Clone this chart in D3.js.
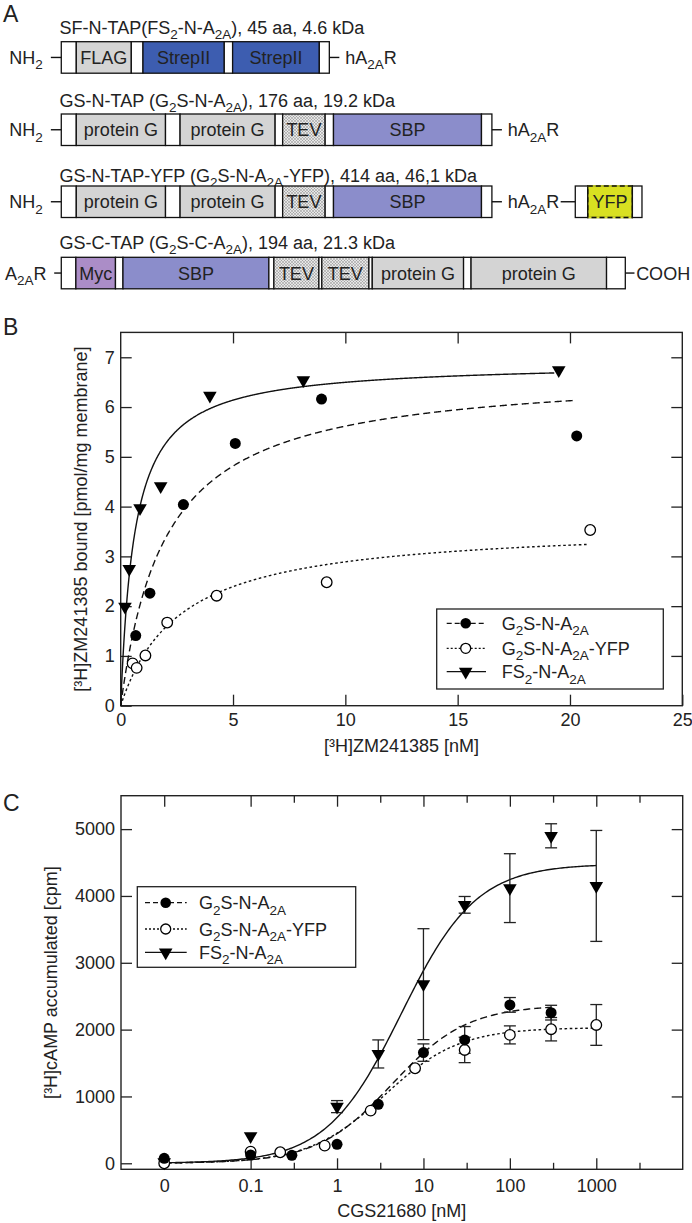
<!DOCTYPE html>
<html><head><meta charset="utf-8">
<script src="https://cdn.jsdelivr.net/npm/d3@7"></script>
<style>
body{margin:0;background:#fff}
text{font-family:"Liberation Sans",Arial,Helvetica,sans-serif;fill:#222}
</style>
</head><body>
<svg id="fig" width="692" height="1223" xmlns="http://www.w3.org/2000/svg"></svg>
<script>
// ---------------- DATA ----------------
// Panel B: saturation binding, [3H]ZM241385 (nM) vs bound (pmol/mg)
const bG2SX = [0.67, 1.30, 2.79, 5.10, 8.94, 20.3];
const bG2SY = [1.41, 2.26, 4.04, 5.27, 6.16, 5.42];
const bYFPX = [0.53, 0.71, 1.10, 2.07, 4.27, 9.17, 20.9];
const bYFPY = [0.85, 0.76, 1.01, 1.67, 2.21, 2.48, 3.53];
const bFS2X = [0.19, 0.38, 0.86, 1.78, 3.97, 8.13, 19.5];
const bFS2Y = [1.99, 2.75, 3.97, 4.41, 6.23, 6.54, 6.74];
// one-site fit parameters [Bmax, Kd, last x]
const bFitG2S = [6.74, 2.0, 20.25];
const bFitYFP = [3.65, 2.63, 20.8];
const bFitFS2 = [6.9, 0.62, 19.3];
const bXTicks = [0, 5, 10, 15, 20, 25];
const bYTicks = [0, 1, 2, 3, 4, 5, 6, 7];

// Panel C: cAMP accumulation, CGS21680 (nM; 0 shown at the "0" position)
const cG2SConc = [0, 0.1, 0.3, 1, 3, 10, 30, 100, 300];
const cG2SVal  = [75, 124, 120, 284, 883, 1656, 1846, 2370, 2254];
const cG2SErr  = [0, 0, 0, 0, 0, 130, 200, 110, 110];
const cYFPConc = [0, 0.1, 0.22, 0.72, 2.45, 8, 30, 100, 300, 1000];
const cYFPVal  = [0, 174, 165, 264, 788, 1422, 1696, 1921, 2006, 2070];
const cYFPErr  = [0, 0, 0, 0, 0, 0, 190, 135, 175, 305];
const cFS2Conc = [0, 0.1, 1, 3, 10, 30, 100, 300, 1000];
const cFS2Val  = [15, 407, 848, 1636, 2680, 3867, 4117, 4900, 4150];
const cFS2Err  = [0, 0, 90, 210, 830, 125, 515, 180, 830];
// sigmoid fit parameters [top, logEC50, last log x]
const cFitG2S = [2368, 0.637, Math.log10(300)];
const cFitYFP = [2030, 0.545, 3];
const cFitFS2 = [4480, 0.744, 3];
const cXMajor = [-2, -1, 0, 1, 2, 3];
const cXMajorLabels = ["0", "0.1", "1", "10", "100", "1000"];
const cXMinor = [-0.5, 0.5, 1.5, 2.5, 3.5];
const cYTicks = [0, 1000, 2000, 3000, 4000, 5000];

// Panel A: constructs (segment borders in drawing units)
const aTitles = [
  [["SF-N-TAP(FS",0],["2",1],["-N-A",0],["2A",1],["), 45 aa, 4.6 kDa",0]],
  [["GS-N-TAP (G",0],["2",1],["S-N-A",0],["2A",1],["), 176 aa, 19.2 kDa",0]],
  [["GS-N-TAP-YFP (G",0],["2",1],["S-N-A",0],["2A",1],["-YFP), 414 aa, 46,1 kDa",0]],
  [["GS-C-TAP (G",0],["2",1],["S-C-A",0],["2A",1],["), 194 aa, 21.3 kDa",0]]
];
const segNTAP = [[147,183,"w"],[183,397,"g","protein G"],[397,432,"w"],[432,660,"g","protein G"],[660,678,"w"],[678,780,"t","TEV"],[780,800,"w"],[800,1155,"s","SBP"],[1155,1180,"w"]];
const aSegs = [
  [[147,183,"w"],[183,315,"g","FLAG"],[315,343,"w"],[343,538,"b","StrepII"],[538,558,"w"],[558,766,"b","StrepII"],[766,790,"w"]],
  segNTAP,
  segNTAP,
  [[147,182,"w"],[182,277,"m","Myc"],[277,295,"w"],[295,645,"s","SBP"],[645,657,"w"],[657,765,"t","TEV"],[765,772,"w"],[772,885,"t","TEV"],[885,893,"w"],[893,1112,"g","protein G"],[1112,1130,"w"],[1130,1455,"g","protein G"],[1455,1500,"w"]]
];
const segYFP = [[1380,1410,"w"],[1410,1517,"y","YFP"],[1517,1540,"w"]];

// ---------------- DRAWING ----------------
const FS = 18;
const svg = d3.select("#fig");
const defs = svg.append("defs");
const pat = defs.append("pattern").attr("id","stip").attr("width",3).attr("height",3).attr("patternUnits","userSpaceOnUse");
pat.append("rect").attr("width",3).attr("height",3).attr("fill","#e6e6e6");
pat.append("circle").attr("cx",1).attr("cy",1).attr("r",0.65).attr("fill","#6e6e6e");
pat.append("circle").attr("cx",2.5).attr("cy",2.5).attr("r",0.5).attr("fill","#8c8c8c");

function rich(sel, x, y, parts, size, anchor) {
  size = size || FS;
  const t = sel.append("text").attr("x",x).attr("y",y).attr("font-size",size).attr("text-anchor",anchor||"start");
  const d = 0.3*size; let sh = false;
  parts.forEach(([s,sub]) => {
    const ts = t.append("tspan").text(s);
    if (sub) { ts.attr("font-size", size*0.75); if (!sh) { ts.attr("dy", d); sh = true; } }
    else if (sh) { ts.attr("dy", -d); sh = false; }
  });
  return t;
}

// Panel labels
svg.append("text").attr("x",3).attr("y",22).attr("font-size",23).text("A");
svg.append("text").attr("x",3).attr("y",335).attr("font-size",23).text("B");
svg.append("text").attr("x",3).attr("y",811).attr("font-size",23).text("C");

// ---- Panel A ----
const xA = d3.scaleLinear().domain([0,1660]).range([0,692]);
const fillA = {w:"#ffffff", g:"#d4d4d4", b:"#3d5db0", s:"#8b8dcb", m:"#ab8dc7", t:"url(#stip)", y:"#d9e021"};
const rowTop = [41.7, 114, 186, 257.3];
const rowH = 31.5;
const titleY = [34, 106.5, 181.5, 248.5];
const gA = svg.append("g");
function drawSegs(segs, top) {
  segs.forEach(s => {
    const x0 = xA(s[0]), x1 = xA(s[1]);
    gA.append("rect").attr("x",x0).attr("y",top).attr("width",x1-x0).attr("height",rowH)
      .attr("fill",fillA[s[2]]).attr("stroke","#111").attr("stroke-width",1.3);
    if (s[2] === "y") {
      gA.append("line").attr("x1",x0).attr("x2",x1).attr("y1",top).attr("y2",top).attr("stroke","#d9e021").attr("stroke-width",1.6);
      gA.append("line").attr("x1",x0).attr("x2",x1).attr("y1",top+rowH).attr("y2",top+rowH).attr("stroke","#d9e021").attr("stroke-width",1.6);
      gA.append("rect").attr("x",x0).attr("y",top).attr("width",x1-x0).attr("height",rowH)
        .attr("fill","none").attr("stroke","#111").attr("stroke-width",1.3).attr("stroke-dasharray","5,3");
    }
    if (s[3]) gA.append("text").attr("x",(x0+x1)/2).attr("y",top+rowH/2+6.5).attr("font-size",FS)
      .attr("text-anchor","middle").text(s[3]);
  });
}
function dash(xa, xb, y) {
  gA.append("line").attr("x1",xA(xa)).attr("x2",xA(xb)).attr("y1",y).attr("y2",y).attr("stroke","#111").attr("stroke-width",1.4);
}
aTitles.forEach((t,i) => rich(gA, xA(143), titleY[i], t));
aSegs.forEach((segs,i) => {
  const top = rowTop[i], mid = top + rowH/2, base = mid + 6.5;
  drawSegs(segs, top);
  if (i < 3) { rich(gA, xA(22), base, [["NH",0],["2",1]]); dash(122,147,mid); }
  else { rich(gA, xA(12), base, [["A",0],["2A",1],["R",0]]); dash(130,147,mid); }
  const endX = segs[segs.length-1][1];
  if (i < 3) {
    dash(endX, endX+24, mid);
    rich(gA, xA(endX+38), base, [["hA",0],["2A",1],["R",0]]);
  } else {
    dash(endX, endX+22, mid);
    gA.append("text").attr("x",xA(endX+26)).attr("y",base).attr("font-size",FS).text("COOH");
  }
  if (i === 2) { dash(1345, 1380, mid); drawSegs(segYFP, top); }
});

// ---- Panel B ----
const xB = d3.scaleLinear().domain([0,25]).range([120.7,682.3]);
const yB = d3.scaleLinear().domain([0,7.5]).range([705.7,332.4]);
const gB = svg.append("g");
function styleAxis(g) {
  g.select(".domain").remove();
  g.selectAll(".tick line").attr("stroke","#222").attr("stroke-width",1.3);
  g.selectAll(".tick text").attr("font-size",FS).attr("fill","#222").attr("font-family","Liberation Sans, Arial, sans-serif");
}
gB.append("g").attr("transform","translate(0,705.7)")
  .call(d3.axisBottom(xB).tickValues(bXTicks).tickFormat(d3.format("d")).tickSizeInner(-11).tickSizeOuter(0).tickPadding(7.5)).call(styleAxis);
gB.append("g").attr("transform","translate(0,332.4)")
  .call(d3.axisTop(xB).tickValues(bXTicks.slice(1,5)).tickFormat("").tickSizeInner(-11).tickSizeOuter(0)).call(styleAxis);
gB.append("g").attr("transform","translate(120.7,0)")
  .call(d3.axisLeft(yB).tickValues(bYTicks).tickFormat(d3.format("d")).tickSizeInner(-11).tickSizeOuter(0).tickPadding(6)).call(styleAxis);
gB.append("g").attr("transform","translate(682.3,0)")
  .call(d3.axisRight(yB).tickValues(bYTicks.slice(1)).tickFormat("").tickSizeInner(-11).tickSizeOuter(0)).call(styleAxis);
gB.append("rect").attr("x",120.7).attr("y",332.4).attr("width",682.3-120.7).attr("height",705.7-332.4)
  .attr("fill","none").attr("stroke","#222").attr("stroke-width",1.4);

const lineB = d3.line().x(d => xB(d[0])).y(d => yB(d[1]));
function bCurve(p) {
  const pts = d3.range(0, p[2], 0.02).concat([p[2]]).map(x => [x, p[0]*x/(p[1]+x)]);
  return pts;
}
const DASH = "7,4", DOT = "2.6,2.6";
gB.append("path").attr("d", lineB(bCurve(bFitG2S))).attr("fill","none").attr("stroke","#111").attr("stroke-width",1.4).attr("stroke-dasharray",DASH);
gB.append("path").attr("d", lineB(bCurve(bFitYFP))).attr("fill","none").attr("stroke","#111").attr("stroke-width",1.4).attr("stroke-dasharray",DOT);
gB.append("path").attr("d", lineB(bCurve(bFitFS2))).attr("fill","none").attr("stroke","#111").attr("stroke-width",1.4);

const triSym = d3.symbol().type(d3.symbolTriangle).size(80);
function tri(g, x, y) { g.append("path").attr("d",triSym()).attr("transform",`translate(${x},${y}) rotate(180)`).attr("fill","#000"); }
function dotF(g, x, y, r) { g.append("circle").attr("cx",x).attr("cy",y).attr("r",r||5.5).attr("fill","#000"); }
function dotO(g, x, y, r) { g.append("circle").attr("cx",x).attr("cy",y).attr("r",r||5.3).attr("fill","#fff").attr("stroke","#000").attr("stroke-width",1.3); }

bYFPX.forEach((x,i) => dotO(gB, xB(x), yB(bYFPY[i])));
bG2SX.forEach((x,i) => dotF(gB, xB(x), yB(bG2SY[i])));
bFS2X.forEach((x,i) => tri(gB, xB(x), yB(bFS2Y[i])));

// axis titles B
gB.append("text").attr("x",(120.7+682.3)/2).attr("y",752).attr("font-size",FS).attr("text-anchor","middle").text("[³H]ZM241385 [nM]");
gB.append("text").attr("transform",`translate(87,${(332.4+705.7)/2}) rotate(-90)`).attr("font-size",FS).attr("text-anchor","middle").text("[³H]ZM241385 bound [pmol/mg membrane]");

const legNames = [
  [["G",0],["2",1],["S-N-A",0],["2A",1]],
  [["G",0],["2",1],["S-N-A",0],["2A",1],["-YFP",0]],
  [["FS",0],["2",1],["-N-A",0],["2A",1]]
];
function legend(g, x0, y0, w, h, rows, lx0, lx1, mx, tx) {
  g.append("rect").attr("x",x0).attr("y",y0).attr("width",w).attr("height",h).attr("fill","#fff").attr("stroke","#222").attr("stroke-width",1.3);
  const styles = [DASH, DOT, null];
  rows.forEach((ry,i) => {
    const ln = g.append("line").attr("x1",lx0).attr("x2",lx1).attr("y1",ry).attr("y2",ry).attr("stroke","#111").attr("stroke-width",1.3);
    if (styles[i]) ln.attr("stroke-dasharray", i===0 ? "5,3" : "2,2");
    if (i===0) dotF(g, mx, ry, 5.3);
    if (i===1) dotO(g, mx, ry, 5);
    if (i===2) tri(g, mx, ry);
    rich(g, tx, ry + 6.5, legNames[i]);
  });
}
legend(gB, 436.7, 609, 663.3-436.7, 689-609, [623.3, 648.3, 671.7], 446.7, 486, 465.7, 501.7);

// ---- Panel C ----
const xC = d3.scaleLinear().domain([-2.5,4]).range([121,682.7]);
const yC = d3.scaleLinear().domain([-90,5500]).range([1169.3,795.7]);
const lg = c => c === 0 ? -2 : Math.log10(c);
const gC = svg.append("g");
gC.append("g").attr("transform","translate(0,1169.3)")
  .call(d3.axisBottom(xC).tickValues(cXMajor).tickFormat((d,i) => cXMajorLabels[i]).tickSizeInner(-11).tickSizeOuter(0).tickPadding(10)).call(styleAxis);
gC.append("g").attr("transform","translate(0,1169.3)")
  .call(d3.axisBottom(xC).tickValues(cXMinor).tickFormat("").tickSizeInner(-6.5).tickSizeOuter(0)).call(styleAxis);
gC.append("g").attr("transform","translate(0,795.7)")
  .call(d3.axisTop(xC).tickValues(cXMajor).tickFormat("").tickSizeInner(-11).tickSizeOuter(0)).call(styleAxis);
gC.append("g").attr("transform","translate(0,795.7)")
  .call(d3.axisTop(xC).tickValues(cXMinor).tickFormat("").tickSizeInner(-7).tickSizeOuter(0)).call(styleAxis);
gC.append("g").attr("transform","translate(121,0)")
  .call(d3.axisLeft(yC).tickValues(cYTicks).tickFormat(d3.format("d")).tickSizeInner(-11).tickSizeOuter(0).tickPadding(6)).call(styleAxis);
gC.append("g").attr("transform","translate(682.7,0)")
  .call(d3.axisRight(yC).tickValues(cYTicks.slice(1)).tickFormat("").tickSizeInner(-11).tickSizeOuter(0)).call(styleAxis);
gC.append("rect").attr("x",121).attr("y",795.7).attr("width",682.7-121).attr("height",1169.3-795.7)
  .attr("fill","none").attr("stroke","#222").attr("stroke-width",1.4);

const lineC = d3.line().x(d => xC(d[0])).y(d => yC(d[1]));
function cCurve(p) {
  return d3.range(-2, p[2], 0.02).concat([p[2]]).map(x => [x, p[0]/(1+Math.pow(10, p[1]-x))]);
}
gC.append("path").attr("d", lineC(cCurve(cFitFS2))).attr("fill","none").attr("stroke","#111").attr("stroke-width",1.4);
gC.append("path").attr("d", lineC(cCurve(cFitYFP))).attr("fill","none").attr("stroke","#111").attr("stroke-width",1.4).attr("stroke-dasharray",DOT);
gC.append("path").attr("d", lineC(cCurve(cFitG2S))).attr("fill","none").attr("stroke","#111").attr("stroke-width",1.4).attr("stroke-dasharray",DASH);

function errBar(g, x, v, e) {
  if (!e) return;
  const y0 = yC(v - e), y1 = yC(v + e);
  g.append("line").attr("x1",x).attr("x2",x).attr("y1",y0).attr("y2",y1).attr("stroke","#222").attr("stroke-width",1.3);
  [y0,y1].forEach(yy => g.append("line").attr("x1",x-6).attr("x2",x+6).attr("y1",yy).attr("y2",yy).attr("stroke","#222").attr("stroke-width",1.3));
}
cFS2Conc.forEach((c,i) => errBar(gC, xC(lg(c)), cFS2Val[i], cFS2Err[i]));
cG2SConc.forEach((c,i) => errBar(gC, xC(lg(c)), cG2SVal[i], cG2SErr[i]));
cYFPConc.forEach((c,i) => errBar(gC, xC(lg(c)), cYFPVal[i], cYFPErr[i]));
cFS2Conc.forEach((c,i) => tri(gC, xC(lg(c)), yC(cFS2Val[i])));
cYFPConc.forEach((c,i) => dotO(gC, xC(lg(c)), yC(cYFPVal[i])));
cG2SConc.forEach((c,i) => dotF(gC, xC(lg(c)), yC(cG2SVal[i])));

gC.append("text").attr("x",(121+682.7)/2).attr("y",1217).attr("font-size",FS).attr("text-anchor","middle").text("CGS21680 [nM]");
gC.append("text").attr("transform",`translate(57,${(795.7+1169.3)/2}) rotate(-90)`).attr("font-size",FS).attr("text-anchor","middle").text("[³H]cAMP accumulated [cpm]");

legend(gC, 137.3, 886.7, 355.7-137.3, 967.3-886.7, [902.7, 929, 952.3], 145, 186.7, 165.7, 199);
</script>
</body></html>
